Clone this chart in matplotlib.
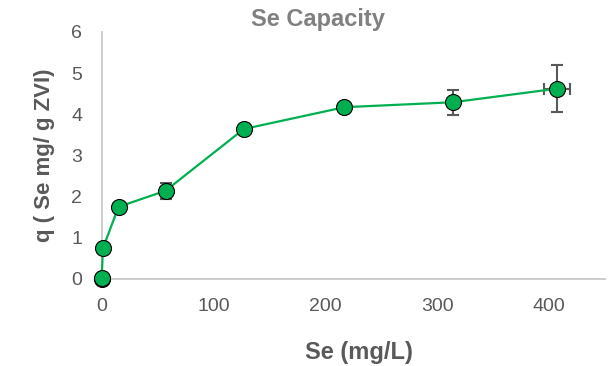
import matplotlib
matplotlib.use("Agg")
import matplotlib.pyplot as plt

# Se concentration (mg/L) vs uptake q (mg Se / g ZVI)
se_conc = [0, 0, 1, 15, 57, 127, 217, 314, 407]
q_vals = [0.0, 0.03, 0.74, 1.75, 2.14, 3.64, 4.17, 4.29, 4.62]
q_err = [0, 0, 0, 0, 0.2, 0, 0, 0.3, 0.57]
conc_err = [0, 0, 0, 0, 0, 0, 0, 0, 11.5]

x_ticks = [0, 100, 200, 300, 400]
y_ticks = [0, 1, 2, 3, 4, 5, 6]

plt.rcParams["font.family"] = ["Liberation Sans", "DejaVu Sans"]

fig = plt.figure(figsize=(6.13, 3.66), dpi=100)
ax = fig.add_axes([0.166, 0.238, 0.821, 0.675])

ax.errorbar(se_conc, q_vals, yerr=q_err, xerr=conc_err, fmt="none",
            ecolor="#595959", elinewidth=1.5, capsize=4, capthick=1.5, zorder=2)
ax.plot(se_conc, q_vals, color="#00B050", linewidth=1.6, marker="o",
        markersize=11.5, markerfacecolor="#00B050", markeredgecolor="black",
        markeredgewidth=0.8, zorder=3, clip_on=False)

ax.set_xlim(0, 450)
ax.set_ylim(0, 6)
ax.set_xticks(x_ticks)
ax.set_yticks(y_ticks)
ax.tick_params(length=0, labelsize=14, labelcolor="#595959")
ax.tick_params(axis="y", pad=14)
ax.tick_params(axis="x", pad=14)

for side in ["top", "right"]:
    ax.spines[side].set_visible(False)
for side in ["left", "bottom"]:
    ax.spines[side].set_color("#C8C8C8")
    ax.spines[side].set_linewidth(1.3)

# title and x label placed on the figure, like the Excel chart area
fig.text(0.519, 0.948, "Se Capacity", fontsize=17, fontweight="bold",
         color="#808080", ha="center", va="center")
fig.text(0.585, 0.038, "Se (mg/L)", fontsize=17, fontweight="bold",
         color="#595959", ha="center", va="center")
ax.set_ylabel("q ( Se mg/ g ZVI)", fontsize=16, fontweight="bold", color="#595959", labelpad=12)

fig.savefig("out.png", dpi=100)
